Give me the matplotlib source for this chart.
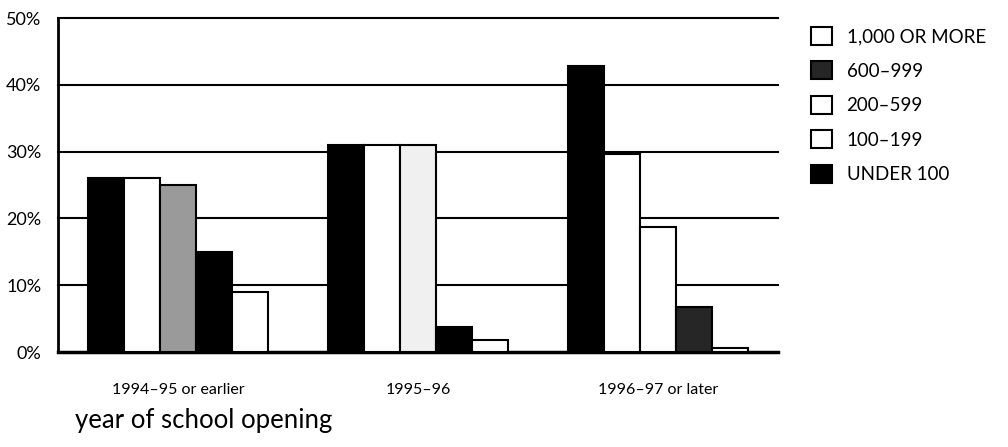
import numpy as np
import matplotlib as mpl
import matplotlib.pyplot as plt
from matplotlib.patches import Patch

mpl.rcParams["font.family"] = ["Lato", "DejaVu Sans"]

# ----------------------------
# Data (percent of schools)
# ----------------------------
groups = ["1994\u201395 or earlier", "1995\u201396", "1996\u201397 or later"]
series = ["UNDER 100", "100\u2013199", "200\u2013599", "600\u2013999", "1,000 OR MORE"]

under_100 = [26, 31, 42.8]
s100_199 = [26, 31, 29.6]
s200_599 = [25, 31, 18.7]
s600_999 = [15, 3.7, 6.7]
s1000_plus = [9, 1.8, 0.6]
values = [under_100, s100_199, s200_599, s600_999, s1000_plus]

y_ticks = [0, 10, 20, 30, 40, 50]
y_labels = ["0%", "10%", "20%", "30%", "40%", "50%"]

# fills as they came out of the scan (per group, per bar)
FACES = [
    ["black", "white", "#9a9a9a", "black", "white"],
    ["black", "white", "#f0f0f0", "black", "white"],
    ["black", "white", "white", "#262626", "white"],
]
LEGEND_FACES = {
    "1,000 OR MORE": "white",
    "600\u2013999": "#262626",
    "200\u2013599": "white",
    "100\u2013199": "white",
    "UNDER 100": "black",
}


def main():
    fig = plt.figure(figsize=(10.08, 4.47), dpi=100)
    ax = fig.add_axes([0.0575, 0.2125, 0.7145, 0.7472])

    x = np.arange(len(groups))
    width = 0.15
    for i, vals in enumerate(values):
        pos = x + (i - 2) * width
        faces = [FACES[g][i] for g in range(len(groups))]
        ax.bar(pos, vals, width, color=faces, edgecolor="black",
               linewidth=1.5, zorder=3)

    for t in y_ticks[1:]:
        ax.axhline(t, color="black", lw=1.5, zorder=1, clip_on=False)

    ax.set_xlim(-0.5, 2.5)
    ax.set_ylim(0, 50)
    ax.set_yticks(y_ticks)
    ax.set_yticklabels(y_labels, fontsize=13)
    ax.tick_params(axis="y", length=0, pad=12)
    ax.set_xticks(x)
    ax.set_xticklabels(groups, fontsize=11.5)
    ax.tick_params(axis="x", length=0, pad=22)

    for side in ["top", "right"]:
        ax.spines[side].set_visible(False)
    ax.spines["left"].set_linewidth(2)
    ax.spines["bottom"].set_linewidth(2.5)
    ax.set_axisbelow(False)

    fig.text(0.074, 0.042, "year of school opening", fontsize=18.5,
             ha="left", va="baseline")

    handles = [
        Patch(facecolor=LEGEND_FACES[name], edgecolor="black", linewidth=1.5,
              label=name)
        for name in series[::-1]
    ]
    fig.legend(handles=handles, loc="upper left",
               bbox_to_anchor=(0.797, 0.957), frameon=False, fontsize=13.5,
               handlelength=1.1, handleheight=1.1, handletextpad=0.8,
               labelspacing=0.86, borderaxespad=0)

    fig.savefig("out.png", dpi=100)
    plt.close(fig)


if __name__ == "__main__":
    main()
